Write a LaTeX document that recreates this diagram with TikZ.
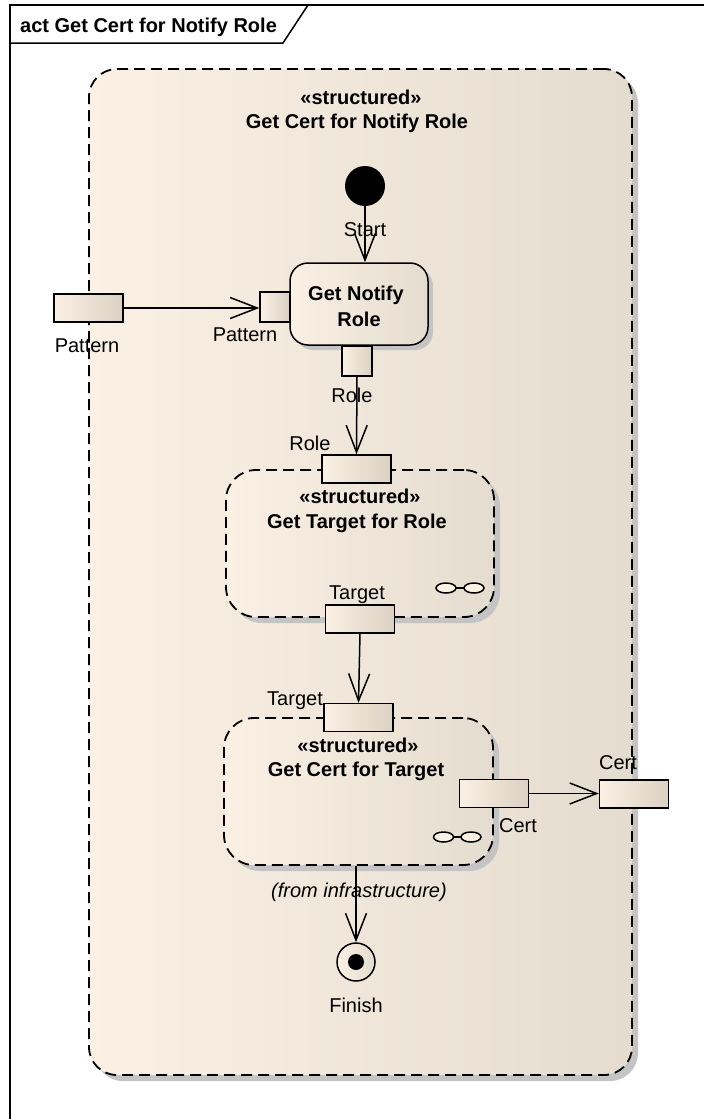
\documentclass[tikz,border=0pt]{standalone}
\usepackage{fontspec}
\setmainfont{Liberation Sans}
\usetikzlibrary{arrows.meta,shadows}

\definecolor{creamL}{RGB}{250,241,228}
\definecolor{creamR}{RGB}{228,220,207}
\definecolor{pinR}{RGB}{218,209,195}
\definecolor{shadowgray}{RGB}{196,196,196}

\tikzset{
  x=1pt, y=-1pt,
  txt/.style={font=\fontsize{20}{24}\selectfont, inner sep=0pt, anchor=base},
  boldtxt/.style={txt, font=\fontsize{20}{24}\selectfont\bfseries},
  itxt/.style={txt, font=\fontsize{20}{24}\selectfont\itshape},
  frameline/.style={line width=1.5pt, black},
  gradfill/.style={left color=creamL, right color=creamR},
  dropsh/.style={drop shadow={shadow xshift=#1, shadow yshift=-#1, fill=shadowgray, opacity=1}},
  structbox/.style={draw, line width=1.8pt, dash pattern=on 11pt off 6pt,
    rounded corners=28pt, gradfill, dropsh=6pt, inner sep=0pt},
  actbox/.style={draw, line width=1.5pt, rounded corners=18pt, gradfill,
    dropsh=5pt, inner sep=0pt},
  pinbox/.style={draw, line width=1.5pt, left color=creamL, middle color=creamL,
    right color=pinR, inner sep=0pt, minimum width=69pt, minimum height=28pt},
  smallpin/.style={pinbox, minimum width=30pt, minimum height=30pt},
  flow/.style={line width=1.5pt, -{Straight Barb[length=27pt, width=21pt, line width=1.5pt]}},
  glass/.style={draw, line width=1.5pt, fill=creamL},
}

\begin{document}
\begin{tikzpicture}
  % page and frame
  \fill[white] (0,0) rectangle (704,1119);
  \useasboundingbox (0,0) rectangle (704,1119);
  \clip (0,0) rectangle (704,1119);
  \draw[frameline] (10,1130) -- (10,5) -- (720,5);
  \draw[frameline] (10,43) -- (283,43) -- (308,5);
  \node[boldtxt, anchor=base west] (frameTitle) at (20,32) {act Get Cert for Notify Role};

  % enclosing structured activity
  \node[structbox, minimum width=543pt, minimum height=1006pt] (outer) at (360.5,572) {};
  \node[boldtxt] (outerSt) at (361,104) {«structured»};
  \node[boldtxt] (outerName) at (357,128) {Get Cert for Notify Role};

  % initial node
  \node[circle, fill=black, inner sep=0pt, minimum size=40pt] (start) at (365,186) {};
  \node[txt] (startLbl) at (365,236) {Start};

  % Get Notify Role action
  \node[actbox, minimum width=138pt, minimum height=82pt] (notify) at (359,304) {};
  \node[boldtxt] (notifyL1) at (356,300) {Get Notify};
  \node[boldtxt] (notifyL2) at (359,326) {Role};

  % Get Target for Role
  \node[structbox, rounded corners=30pt, minimum width=268pt, minimum height=147pt] (gtr) at (360,543.5) {};
  \node[boldtxt] (gtrSt) at (360,503) {«structured»};
  \node[boldtxt] (gtrName) at (357,528) {Get Target for Role};
  \draw[glass] (446,588) ellipse [x radius=10, y radius=5];
  \draw[glass] (474,588) ellipse [x radius=10, y radius=5];
  \draw[line width=1.5pt] (456,588) -- (464,588);

  % Get Cert for Target
  \node[structbox, rounded corners=30pt, minimum width=269pt, minimum height=147pt] (gct) at (358.5,791.5) {};
  \node[boldtxt] (gctSt) at (358,752) {«structured»};
  \node[boldtxt] (gctName) at (356,776) {Get Cert for Target};
  \draw[glass] (443.5,837) ellipse [x radius=10, y radius=5];
  \draw[glass] (471,837) ellipse [x radius=10, y radius=5];
  \draw[line width=1.5pt] (453.5,837) -- (461,837);
  \node[itxt] (fromLbl) at (359,897) {(from infrastructure)};

  % final node
  \node[circle, draw, line width=1.5pt, gradfill, inner sep=0pt, minimum size=38pt] (finish) at (356,962) {};
  \node[circle, fill=black, inner sep=0pt, minimum size=16pt] (finishDot) at (finish.center) {};
  \node[txt] (finishLbl) at (356,1012) {Finish};

  % parameters and pins
  \node[pinbox] (paramPattern) at (88.5,308) {};
  \node[txt] (paramPatternLbl) at (87,352) {Pattern};
  \node[smallpin] (pinPattern) at (275,307) {};
  \node[txt] (pinPatternLbl) at (245,341) {Pattern};

  \node[smallpin] (pinRoleOut) at (357,361) {};
  \node[txt] (pinRoleOutLbl) at (352,402) {Role};
  \node[pinbox] (pinRoleIn) at (356.5,469) {};
  \node[txt] (pinRoleInLbl) at (310,450) {Role};

  \node[pinbox] (pinTargetOut) at (360,619) {};
  \node[txt] (pinTargetOutLbl) at (357,599) {Target};
  \node[pinbox] (pinTargetIn) at (358.5,717.5) {};
  \node[txt] (pinTargetInLbl) at (295,705) {Target};

  \node[pinbox] (pinCertOut) at (494,793.5) {};
  \node[txt] (pinCertOutLbl) at (518,832) {Cert};
  \node[pinbox] (paramCert) at (634,794) {};
  \node[txt] (paramCertLbl) at (618,769) {Cert};

  % flows
  \draw[flow] (start.south) -- (start.south |- notify.north);
  \draw[flow] (paramPattern.east) -- (paramPattern.east -| pinPattern.west);
  \draw[flow] (pinRoleOut.south) -- (pinRoleIn.north);
  \draw[flow] (pinTargetOut.south) -- (pinTargetIn.north);
  \draw[flow] (pinCertOut.east) -- (pinCertOut.east -| paramCert.west);
  \draw[flow] (finish |- gct.south) -- (finish.north);
\end{tikzpicture}
\end{document}
